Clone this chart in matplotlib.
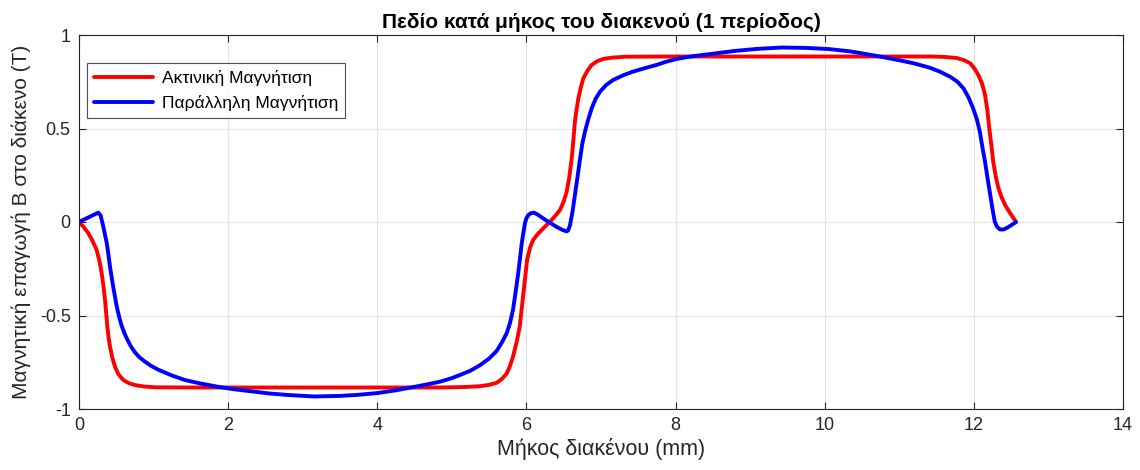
import matplotlib
matplotlib.use("Agg")
import matplotlib.pyplot as plt

# --- data ---
radial_x = [0.00, 0.06, 0.125, 0.18, 0.237, 0.275, 0.304, 0.33, 0.349, 0.365, 0.38, 0.398, 0.416, 0.45, 0.483,
            0.53, 0.594, 0.67, 0.75, 0.88, 1.02, 1.5, 2.5, 3.5, 4.5, 4.84, 5.2, 5.38, 5.50, 5.60, 5.67,
            5.735, 5.78, 5.82, 5.87, 5.91, 5.935, 5.96, 5.985, 6.01, 6.05, 6.09, 6.15, 6.205, 6.26,
            6.316, 6.38, 6.45, 6.50, 6.54, 6.575, 6.607, 6.63, 6.65, 6.672, 6.696, 6.73, 6.763, 6.82,
            6.875, 6.95, 7.03, 7.15, 7.34, 8.0, 9.0, 10.0, 11.0, 11.41, 11.6, 11.77, 11.87, 11.95,
            12.01, 12.06, 12.11, 12.15, 12.18, 12.207, 12.235, 12.26, 12.295, 12.33, 12.375, 12.42,
            12.49, 12.566]
radial_y = [0.00, -0.025, -0.06, -0.10, -0.15, -0.21, -0.274, -0.35, -0.417, -0.49, -0.56, -0.62, -0.667, -0.73, -0.774,
            -0.815, -0.845, -0.862, -0.872, -0.88, -0.884, -0.885, -0.885, -0.885, -0.885, -0.885, -0.882, -0.878, -0.871, -0.86, -0.84,
            -0.81, -0.77, -0.72, -0.64, -0.56, -0.47, -0.38, -0.29, -0.20, -0.135, -0.096, -0.065, -0.043, -0.02,
            0.002, 0.03, 0.064, 0.11, 0.162, 0.24, 0.34, 0.44, 0.536, 0.60, 0.66, 0.72, 0.768, 0.81,
            0.84, 0.86, 0.872, 0.879, 0.884, 0.885, 0.885, 0.885, 0.885, 0.885, 0.883, 0.877, 0.865, 0.849,
            0.82, 0.786, 0.74, 0.68, 0.60, 0.50, 0.41, 0.322, 0.24, 0.18, 0.13, 0.09,
            0.045, 0.00]

parallel_x = [0.00, 0.065, 0.13, 0.195, 0.259, 0.29, 0.326, 0.35, 0.371, 0.395, 0.416, 0.44, 0.46, 0.483, 0.505,
              0.54, 0.572, 0.615, 0.66, 0.70, 0.75, 0.815, 0.885, 0.97, 1.064, 1.24, 1.42, 1.62, 1.85, 2.05,
              2.3, 2.55, 2.8, 3.15, 3.5, 3.75, 4.0, 4.25, 4.45, 4.65, 4.84, 5.0, 5.11, 5.25, 5.38,
              5.50, 5.60, 5.67, 5.735, 5.78, 5.82, 5.855, 5.89, 5.915, 5.937, 5.96, 5.98, 6.00, 6.025,
              6.06, 6.10, 6.15, 6.20, 6.26, 6.316, 6.40, 6.48, 6.54, 6.56, 6.585, 6.62, 6.65, 6.685,
              6.72, 6.75, 6.785, 6.83, 6.875, 6.93, 6.987, 7.07, 7.165, 7.30, 7.43, 7.59, 7.745, 7.88,
              8.015, 8.2, 8.5, 8.8, 9.1, 9.42, 9.75, 10.05, 10.35, 10.7, 11.0, 11.2, 11.41, 11.55,
              11.68, 11.78, 11.86, 11.93, 11.99, 12.04, 12.08, 12.115, 12.15, 12.185, 12.22, 12.25,
              12.28, 12.31, 12.35, 12.40, 12.45, 12.51, 12.566]
parallel_y = [0.00, 0.013, 0.025, 0.038, 0.05, 0.035, -0.025, -0.07, -0.11, -0.175, -0.24, -0.30, -0.35, -0.40, -0.45,
              -0.51, -0.555, -0.60, -0.638, -0.668, -0.697, -0.725, -0.747, -0.77, -0.79, -0.82, -0.845, -0.863, -0.88, -0.893,
              -0.905, -0.917, -0.925, -0.933, -0.93, -0.924, -0.915, -0.90, -0.885, -0.87, -0.854, -0.835, -0.818, -0.795, -0.765,
              -0.73, -0.69, -0.645, -0.595, -0.54, -0.47, -0.375, -0.274, -0.19, -0.114, -0.055, -0.007, 0.02, 0.037,
              0.047, 0.05, 0.04, 0.026, 0.01, -0.004, -0.025, -0.042, -0.05, -0.045, -0.016, 0.06, 0.144, 0.24,
              0.34, 0.42, 0.483, 0.55, 0.608, 0.66, 0.697, 0.733, 0.76, 0.785, 0.804, 0.823, 0.84, 0.858,
              0.872, 0.885, 0.90, 0.915, 0.926, 0.933, 0.931, 0.925, 0.912, 0.888, 0.865, 0.848, 0.825, 0.803,
              0.777, 0.75, 0.715, 0.665, 0.608, 0.55, 0.483, 0.40, 0.322, 0.23, 0.144, 0.07,
              0.002, -0.025, -0.04, -0.04, -0.03, -0.015, 0.00]

labels = ["Ακτινική Μαγνήτιση", "Παράλληλη Μαγνήτιση"]
xticks = [0, 2, 4, 6, 8, 10, 12, 14]
yticks = [-1, -0.5, 0, 0.5, 1]
ytick_labels = ["-1", "-0.5", "0", "0.5", "1"]

plt.rcParams['font.family'] = ['Liberation Sans', 'DejaVu Sans']

fig = plt.figure(figsize=(11.4, 4.7), dpi=100)
ax = fig.add_axes([79/1140, 1-409/470, (1123-79)/1140, (409-35)/470])

ax.plot(radial_x, radial_y, color='#ff0000', lw=2.8, label=labels[0],
        solid_joinstyle='round', solid_capstyle='round')
ax.plot(parallel_x, parallel_y, color='#0000ff', lw=2.8, label=labels[1],
        solid_joinstyle='round', solid_capstyle='round')

ax.set_xlim(0, 14)
ax.set_ylim(-1, 1)
ax.set_xticks(xticks)
ax.set_xticklabels([str(t) for t in xticks])
ax.set_yticks(yticks)
ax.set_yticklabels(ytick_labels)
ax.grid(True, color='#e3e3e3', lw=0.8)
ax.set_axisbelow(True)
ax.tick_params(direction='in', length=5, width=0.8, top=True, right=True,
               labelsize=13, colors='#262626', pad=6)
for s in ax.spines.values():
    s.set_color('#262626')
    s.set_linewidth(0.8)

ax.set_title("Πεδίο κατά μήκος του διακενού (1 περίοδος)", fontsize=15, fontweight='bold', color='black', pad=5)
ax.set_xlabel("Μήκος διακένου (mm)", fontsize=15.5, color='#262626', labelpad=3)
ax.set_ylabel("Μαγνητική επαγωγή B στο διάκενο (T)", fontsize=15, color='#262626', labelpad=6)

leg = ax.legend(loc='upper left', bbox_to_anchor=(0.008, 0.925), fontsize=12.5, frameon=True, fancybox=False,
                handlelength=3.4, borderpad=0.4, labelspacing=0.5, handletextpad=0.5, borderaxespad=0)
leg.get_frame().set_edgecolor('#262626')
leg.get_frame().set_linewidth(0.8)

fig.savefig("out.png", dpi=100)
